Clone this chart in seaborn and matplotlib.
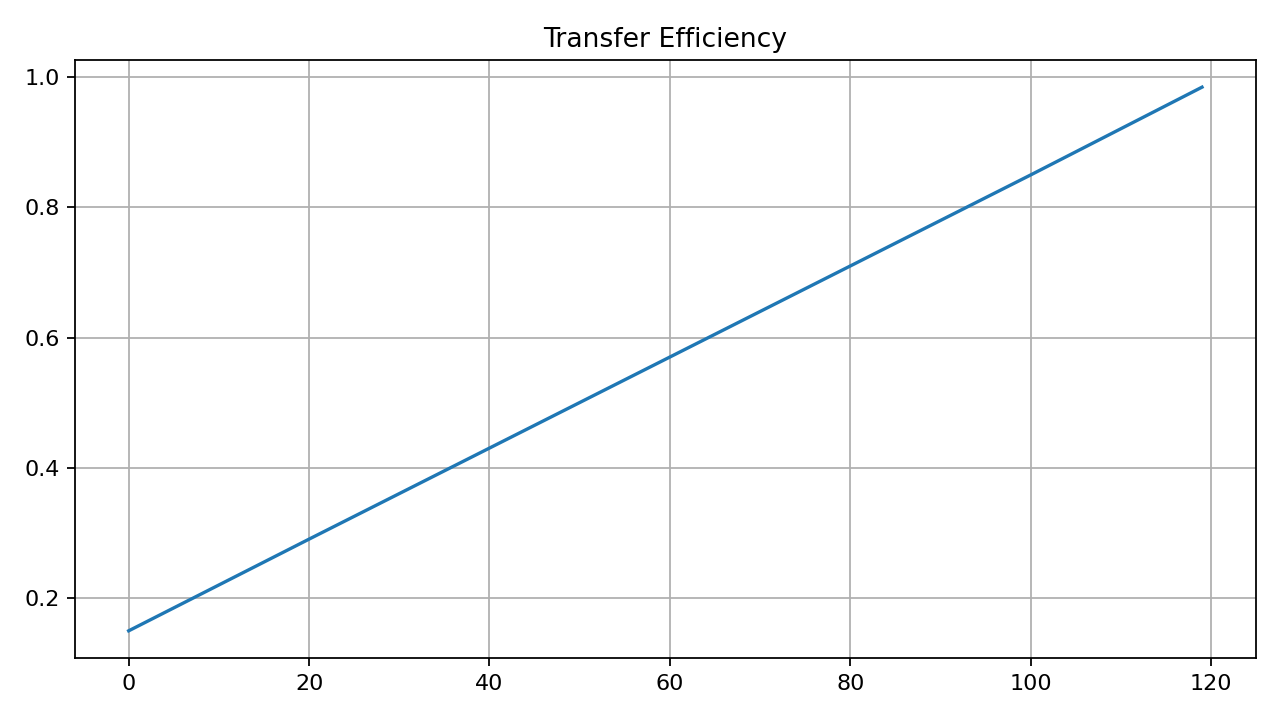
import matplotlib
matplotlib.use("Agg")
import matplotlib.pyplot as plt
import seaborn as sns
import pandas as pd

# Values
step = [0, 20, 40, 60, 80, 100, 119]
efficiency = [0.149, 0.290, 0.430, 0.570, 0.710, 0.850, 0.985]

df = pd.DataFrame({"step": step, "efficiency": efficiency})

fig, ax = plt.subplots(figsize=(8, 4.5), dpi=160)
sns.lineplot(data=df, x="step", y="efficiency", ax=ax, color="#1f77b4", linewidth=1.5)
ax.set_title("Transfer Efficiency")
ax.set_xlabel("")
ax.set_ylabel("")
ax.grid(True)
fig.subplots_adjust(left=0.0586, right=0.981, top=0.9167, bottom=0.0861)
fig.savefig("out.png", dpi=160)
